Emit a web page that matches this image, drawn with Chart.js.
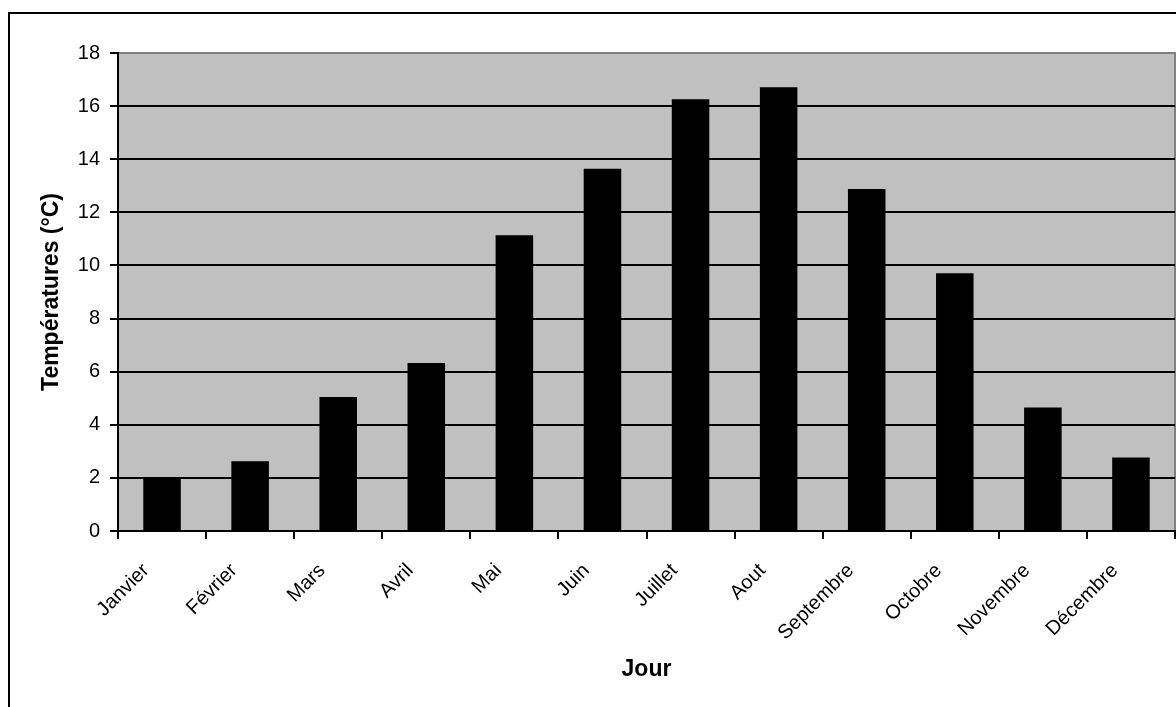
<!DOCTYPE html>
<html lang="fr">
<head>
<meta charset="utf-8">
<title>Températures mensuelles</title>
<script src="https://cdn.jsdelivr.net/npm/chart.js@4/dist/chart.umd.min.js"></script>
<style>
    html, body { margin: 0; padding: 0; background: #fff; overflow: hidden; }
    #wrap  { position: relative; width: 1176px; height: 707px; }
    /* cadre noir autour du graphique (bords haut et gauche visibles) */
    #frame {
        position: absolute; left: 8px; top: 12px;
        width: 1200px; height: 720px;
        border-left: 2px solid #000; border-top: 2px solid #000;
    }
    #chart { position: absolute; left: 0; top: 0; }
</style>
</head>
<body>
<div id="wrap">
    <div id="frame"></div>
    <canvas id="chart" width="1176" height="707"></canvas>
</div>
<script>
// données : température moyenne par mois
const mois = ["Janvier", "Février", "Mars", "Avril", "Mai", "Juin",
              "Juillet", "Aout", "Septembre", "Octobre", "Novembre", "Décembre"];
const temperatures = [2.0, 2.63, 5.05, 6.33, 11.14, 13.64,
                      16.26, 16.71, 12.88, 9.71, 4.65, 2.77];
const yTicks = [0, 2, 4, 6, 8, 10, 12, 14, 16, 18];

const FONT = "'Liberation Sans', Arial, sans-serif";

// fond gris de la zone de tracé + bordure grise
const plotBackground = {
    id: "plotBackground",
    beforeDraw(chart) {
        const { ctx, chartArea: a } = chart;
        ctx.save();
        ctx.fillStyle = "#c0c0c0";
        ctx.fillRect(a.left, a.top, a.right - a.left, a.bottom - a.top);
        ctx.strokeStyle = "#808080";
        ctx.lineWidth = 2;
        ctx.strokeRect(a.left, a.top, a.right - a.left, a.bottom - a.top);
        ctx.restore();
    }
};

new Chart(document.getElementById("chart"), {
    type: "bar",
    data: {
        labels: mois,
        datasets: [{
            data: temperatures,
            backgroundColor: "#000",
            borderWidth: 0,
            categoryPercentage: 1,
            barPercentage: 0.426
        }]
    },
    options: {
        responsive: false,
        animation: false,
        events: [],
        layout: { padding: { top: 53, right: 1, left: 0, bottom: 0 } },
        plugins: {
            legend:  { display: false },
            tooltip: { enabled: false }
        },
        scales: {
            y: {
                min: 0,
                max: 18,
                afterBuildTicks: s => { s.ticks = yTicks.map(v => ({ value: v })); },
                afterFit: s => { s.width = 118; },
                border: { display: true, color: "#000", width: 2 },
                grid: {
                    color: c => c.tick && c.tick.value === 18 ? "#808080" : "#000",
                    tickColor: "#000",
                    lineWidth: 2,
                    tickLength: 8
                },
                ticks: {
                    color: "#000",
                    padding: 10,
                    font: { family: FONT, size: 20 }
                },
                title: {
                    display: true,
                    text: "Températures (°C)",
                    color: "#000",
                    padding: { top: 38, bottom: 0 },
                    font: { family: FONT, size: 23, weight: "bold" }
                }
            },
            x: {
                afterFit: s => { s.height = 707 - 531; },
                border: { display: true, color: "#000", width: 2 },
                grid: {
                    drawOnChartArea: false,
                    drawTicks: true,
                    tickLength: 8,
                    color: "#000",
                    lineWidth: 2
                },
                ticks: {
                    color: "#000",
                    minRotation: 45,
                    maxRotation: 45,
                    autoSkip: false,
                    padding: 20,
                    labelOffset: -16,
                    font: { family: FONT, size: 20 }
                },
                title: {
                    display: true,
                    text: "Jour",
                    color: "#000",
                    padding: { top: 0, bottom: 24 },
                    font: { family: FONT, size: 23, weight: "bold" }
                }
            }
        }
    },
    plugins: [plotBackground]
});
</script>
</body>
</html>
